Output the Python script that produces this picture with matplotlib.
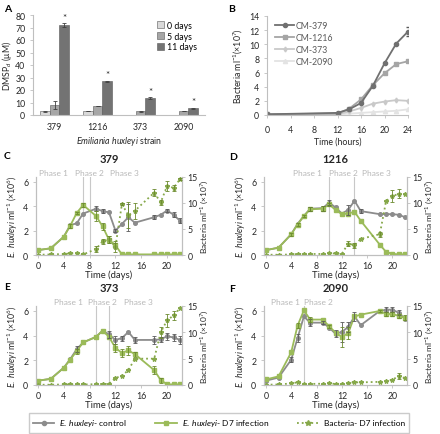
import numpy as np
import matplotlib
matplotlib.use('Agg')
import matplotlib.pyplot as plt
from matplotlib.lines import Line2D
from matplotlib.transforms import blended_transform_factory

plt.rcParams['font.family'] = ['Lato', 'DejaVu Sans']
plt.rcParams['mathtext.fontset'] = 'custom'
plt.rcParams['mathtext.rm'] = 'Lato'
plt.rcParams['mathtext.it'] = 'Lato:italic'
plt.rcParams['mathtext.bf'] = 'Lato:bold'

#------------- A: DMSPd -------------
strains = ['379', '1216', '373', '2090']
dmsp_0 = [3.0, 3.2, 0.2, 0.3]
dmsp_5 = [8.2, 7.3, 3.0, 3.2]
dmsp_11 = [72.0, 27.0, 13.3, 5.5]
err_0 = [0.3, 0.2, 0.1, 0.1]
err_5 = [3.0, 0.3, 0.3, 0.3]
err_11 = [1.5, 0.6, 0.8, 0.4]

#------------- B: bacteria in CM -------------
hours = [0, 12, 14, 16, 18, 20, 22, 24]
cm_379 = [0.1, 0.3, 0.8, 1.7, 4.1, 7.3, 10.1, 11.8]
cm_1216 = [0.1, 0.2, 0.9, 2.2, 4.2, 5.9, 7.2, 7.6]
cm_373 = [0.1, 0.1, 0.5, 1.0, 1.6, 1.9, 2.1, 2.0]
cm_2090 = [0.1, 0.05, 0.2, 0.3, 0.4, 0.5, 0.6, 0.8]
cm_379_err = [0, 0, 0, 0, 0, 0, 0, 0.6]

#------------- C-F: time courses -------------
days = [0, 2, 4, 5, 6, 7, 9, 10, 11, 12, 13, 14, 15, 18, 19, 20, 21, 22]

ctrl_379 = [0.4, 0.55, 1.5, 2.45, 2.6, 3.4, 3.8, 3.6, 3.5, 2.0, 2.55, 3.1, 2.65, 3.1, 3.3, 3.65, 3.3, 2.8]
inf_379 = [0.4, 0.55, 1.5, 2.4, 3.45, 4.1, 3.2, 2.35, 1.25, 0.8, 0.05, 0.05, 0.05, 0.05, 0.05, 0.05, 0.05, 0.05]
bact_379 = [0.05, 0.1, 0.2, 0.3, 0.35, 0.1, 1.15, 2.6, 3.0, 1.6, 9.8, 7.6, 8.5, 12.0, 10.1, 13.3, 12.9, 14.6]
ctrl_379_err = [0, 0, 0, 0, 0, 0, 0.2, 0.15, 0, 0.1, 0, 1.1, 0, 0.15, 0, 0.1, 0.2, 0.2]
inf_379_err = [0, 0, 0, 0.15, 0.1, 0.15, 0.4, 0.3, 0.3, 0.2, 0, 0, 0, 0, 0, 0, 0, 0]
bact_379_err = [0, 0, 0, 0, 0, 0, 0.6, 0.5, 0.6, 1.0, 0.2, 2.5, 1.5, 0.6, 0.4, 1.0, 0.6, 0.2]

ctrl_1216 = [0.4, 0.6, 1.7, 2.55, 3.2, 3.8, 3.85, 4.3, 3.9, 3.4, 3.7, 4.45, 3.6, 3.35, 3.35, 3.35, 3.3, 3.1]
inf_1216 = [0.4, 0.6, 1.7, 2.5, 3.2, 3.75, 3.8, 4.15, 3.7, 3.35, 3.4, 3.55, 2.8, 0.85, 0.25, 0.1, 0.05, 0.05]
bact_1216 = [0.05, 0.05, 0.1, 0.2, 0.15, 0.2, 0.2, 0.3, 0.3, 0.2, 2.2, 1.9, 3.1, 4.0, 10.4, 11.3, 11.8, 11.7]
ctrl_1216_err = [0, 0, 0, 0, 0, 0.15, 0.2, 0.2, 0, 0, 0.4, 0, 0.15, 0, 0, 0, 0, 0]
inf_1216_err = [0, 0, 0.1, 0.1, 0.1, 0.15, 0.2, 0.15, 0, 0, 0, 0, 0, 0, 0, 0, 0, 0]
bact_1216_err = [0, 0, 0, 0, 0, 0, 0, 0, 0, 0, 0.4, 0.5, 0, 0.5, 0, 1.2, 0.8, 0]

ctrl_373 = [0.35, 0.5, 1.4, 2.1, 2.9, 3.45, 3.9, 4.4, 4.1, 3.65, 3.8, 4.3, 3.65, 3.65, 3.7, 3.95, 3.85, 3.65]
inf_373 = [0.35, 0.5, 1.4, 2.05, 2.75, 3.45, 3.9, 4.4, 3.9, 3.0, 2.6, 2.8, 2.5, 1.2, 0.4, 0.05, 0.05, 0.05]
bact_373 = [0.05, 0.05, 0.1, 0.1, 0.1, 0.1, 0.15, 0.2, 0.2, 1.3, 1.8, 2.8, 5.0, 5.0, 10.0, 12.3, 13.2, 14.6]
ctrl_373_err = [0, 0, 0, 0, 0.25, 0, 0, 0, 0.3, 0.3, 0.2, 0, 0.25, 0.3, 0.2, 0.3, 0.25, 0.3]
inf_373_err = [0, 0, 0, 0, 0.2, 0, 0, 0, 0, 0.3, 0.3, 0.35, 0.2, 0.3, 0.2, 0, 0, 0]
bact_373_err = [0, 0, 0, 0, 0, 0, 0, 0, 0, 0, 0, 0, 0, 0, 1.0, 1.2, 0.8, 0]

ctrl_2090 = [0.35, 0.6, 2.05, 3.8, 5.55, 5.05, 5.05, 4.65, 4.15, 4.3, 4.7, 5.55, 4.85, 6.0, 6.1, 6.1, 5.85, 5.35]
inf_2090 = [0.45, 0.7, 2.65, 4.8, 6.05, 5.3, 5.3, 4.75, 4.25, 3.9, 4.2, 5.55, 5.7, 6.0, 5.75, 5.75, 5.6, 5.45]
bact_2090 = [0.05, 0.1, 0.3, 0.5, 0.2, 0.2, 0.25, 0.3, 0.2, 0.25, 0.4, 0.5, 0.5, 0.6, 0.7, 1.0, 1.7, 1.3]
ctrl_2090_err = [0, 0, 0.2, 0.3, 0, 0.3, 0.1, 0, 0.3, 0.8, 0.4, 0.4, 0, 0, 0.2, 0.2, 0.2, 0]
inf_2090_err = [0, 0, 0, 0.2, 0, 0.2, 0, 0.15, 0, 0.8, 0.5, 0, 0, 0.1, 0.2, 0.2, 0.15, 0.2]
bact_2090_err = [0, 0, 0, 0, 0, 0, 0, 0, 0, 0, 0, 0, 0, 0, 0, 0, 0.6, 0]

GRAY = '#8c8c8c'
GREEN = '#9bbb59'
BACT = '#86a84a'
AXC = '#bfbfbf'
TXT = '#262626'
FS = 6.3
LFS = 6.3

fig = plt.figure(figsize=(4.4, 4.35), dpi=100)


def px_rect(l, t, r, b):
    return [l / 440, 1 - b / 435, (r - l) / 440, (b - t) / 435]


def style(ax, sides=('left', 'bottom')):
    for s in ax.spines:
        ax.spines[s].set_visible(s in sides)
        ax.spines[s].set_color(AXC)
        ax.spines[s].set_linewidth(0.8)
    ax.tick_params(labelsize=FS, colors=TXT, length=2, width=0.6)
    ax.tick_params(axis='both', color=AXC)


#------------------ A -------------------
axA = fig.add_axes(px_rect(33, 16, 205, 116))
x = np.arange(len(strains))
w = 0.22
kw = dict(width=w, edgecolor='#595959', linewidth=0.4,
          error_kw=dict(elinewidth=0.6, capsize=1.2, capthick=0.6, ecolor='#404040'))
axA.bar(x - w, dmsp_0, yerr=err_0, color='#d9d9d9', label='0 days', **kw)
axA.bar(x, dmsp_5, yerr=err_5, color='#a6a6a6', label='5 days', **kw)
axA.bar(x + w, dmsp_11, yerr=err_11, color='#737373', label='11 days', **kw)
for i in range(len(strains)):
    axA.text(x[i] + w, dmsp_11[i] + err_11[i] + 1, '*', ha='center', va='bottom',
             fontsize=7, color=TXT)
axA.set_xlim(-0.5, 3.5)
axA.set_ylim(0, 80)
axA.set_yticks(range(0, 81, 10))
axA.set_xticks(x)
axA.set_xticklabels(strains)
style(axA)
axA.tick_params(axis='x', length=0, pad=5)
axA.set_ylabel('DMSP$_d$ (μM)', fontsize=LFS, color=TXT, labelpad=1)
axA.set_xlabel(r'$\it{Emiliania\ huxleyi}$ strain', fontsize=LFS, color=TXT, labelpad=2)
axA.legend(loc='upper right', fontsize=FS, frameon=False, handlelength=0.8,
           handleheight=0.8, handletextpad=0.4, labelspacing=0.2,
           bbox_to_anchor=(1.0, 1.02))
fig.text(4 / 440, 1 - 9 / 435, 'A', fontsize=7.5, fontweight='bold', va='center')

#------------------ B -------------------
axB = fig.add_axes(px_rect(267, 17, 408, 116))
axB.plot(hours, cm_2090, '-^', color='#e3e3e3', ms=3, lw=1.3, label='CM-2090')
axB.plot(hours, cm_373, '-d', color='#c9c9c9', ms=2.5, lw=1.3, label='CM-373')
axB.plot(hours, cm_1216, '-s', color='#a5a5a5', ms=3, lw=1.3, label='CM-1216')
axB.plot(hours, cm_379, '-o', color='#707070', ms=3, lw=1.3, label='CM-379')
m = np.array(cm_379_err) > 0
axB.errorbar(np.array(hours)[m], np.array(cm_379)[m], yerr=np.array(cm_379_err)[m],
             fmt='none', ecolor='#595959', elinewidth=0.6, capsize=1.2)
axB.set_xlim(0, 24)
axB.set_ylim(0, 14)
axB.set_xticks(range(0, 25, 4))
axB.set_yticks(range(0, 15, 2))
style(axB)
axB.tick_params(axis='x', pad=5)
axB.set_xlabel('Time (hours)', fontsize=LFS, color=TXT, labelpad=2)
axB.set_ylabel('Bacteria ml$^{-1}$(×10$^{7}$)', fontsize=LFS, color=TXT, labelpad=3)
h, l = axB.get_legend_handles_labels()
leg = axB.legend(h[::-1], l[::-1], loc='upper left', fontsize=FS, frameon=False,
                 handlelength=2.2, handletextpad=0.2, labelspacing=0.35,
                 bbox_to_anchor=(0.0, 1.03))
for t in leg.get_texts():
    t.set_color('#595959')
fig.text(228 / 440, 1 - 9 / 435, 'B', fontsize=7.5, fontweight='bold', va='center')


#------------------ C-F -------------------
def err_bars(ax, y, e, color):
    e = np.array(e, dtype=float)
    m = e > 0
    ax.errorbar(np.array(days)[m], np.array(y)[m], yerr=e[m], fmt='none',
                ecolor=color, elinewidth=0.6, capsize=1.2, capthick=0.6, zorder=4)


def phase_panel(rect, letter, letter_xy, title, ctrl, inf, bact,
                ctrl_err, inf_err, bact_err, lines, phase_x):
    ax = fig.add_axes(rect)
    ax2 = ax.twinx()
    for d in lines:
        ax.axvline(d, color='#c8c8c8', lw=0.8, zorder=0)
    ax.plot(days, ctrl, '-o', color=GRAY, ms=2.6, lw=1.3, zorder=2)
    ax.plot(days, inf, '-s', color=GREEN, ms=2.8, lw=1.3, zorder=3)
    err_bars(ax, ctrl, ctrl_err, '#595959')
    err_bars(ax, inf, inf_err, '#6b8a2e')
    ax2.plot(days, bact, ':', marker='*', color=BACT, ms=3.2, lw=1.3)
    err_bars(ax2, bact, bact_err, '#6b8a2e')
    ax.set_xlim(-0.3, 22.3)
    ax.set_ylim(0, 6.4)
    ax2.set_ylim(0, 15)
    ax.set_xticks(range(0, 21, 4))
    ax.set_yticks([0, 2, 4, 6])
    ax2.set_yticks([0, 5, 10, 15])
    style(ax, ('left', 'bottom', 'right'))
    style(ax2, ('left', 'bottom', 'right'))
    ax.tick_params(axis='x', pad=2)
    ax2.tick_params(axis='y', pad=2)
    ax.set_xlabel('Time (days)', fontsize=LFS + 0.5, color=TXT, labelpad=0)
    ax.set_ylabel(r'$\it{E.\ huxleyi}$ ml$^{-1}$ (×10$^{6}$)', fontsize=LFS, color=TXT,
                  labelpad=2)
    ax2.set_ylabel('Bacteria ml$^{-1}$ (×10$^{7}$)', fontsize=6, color=TXT, labelpad=1)
    tr = blended_transform_factory(ax.transData, ax.transAxes)
    for i, px in enumerate(phase_x):
        ax.text(px, 1.015, 'Phase %d' % (i + 1), transform=tr, ha='center', va='bottom',
                fontsize=6, color='#b8b8b8')
    ax.set_title(title, fontsize=8, fontweight='bold', color=TXT, pad=11)
    fig.text(letter_xy[0] / 440, 1 - letter_xy[1] / 435, letter, fontsize=7.5,
             fontweight='bold', va='center')


phase_panel(px_rect(36, 178, 182, 256), 'C', (4, 157), '379',
            ctrl_379, inf_379, bact_379, ctrl_379_err, inf_379_err, bact_379_err,
            [7, 8], [2.4, 8.0, 13.4])
phase_panel(px_rect(264, 178, 407, 256), 'D', (229, 158), '1216',
            ctrl_1216, inf_1216, bact_1216, ctrl_1216_err, inf_1216_err, bact_1216_err,
            [10, 14], [6.6, 12.2, 17.5])
phase_panel(px_rect(36, 307, 182, 386), 'E', (4, 288), '373',
            ctrl_373, inf_373, bact_373, ctrl_373_err, inf_373_err, bact_373_err,
            [9, 11], [4.7, 10.0, 15.6])
phase_panel(px_rect(264, 307, 407, 386), 'F', (229, 290), '2090',
            ctrl_2090, inf_2090, bact_2090, ctrl_2090_err, inf_2090_err, bact_2090_err,
            [6], [3.1, 8.3])

#------------------ legend -------------------
handles = [
    Line2D([], [], color=GRAY, marker='o', ms=3, lw=1.3),
    Line2D([], [], color=GREEN, marker='s', ms=3, lw=1.3),
    Line2D([], [], color=BACT, marker='*', ms=4, lw=1.3, ls=':'),
]
labels = [r'$\it{E.\ huxleyi}$- control', r'$\it{E.\ huxleyi}$- D7 infection',
          'Bacteria- D7 infection']
fig.legend(handles, labels, loc='center', ncol=3, fontsize=6,
           bbox_to_anchor=(219 / 440, 1 - 424 / 435), frameon=True, fancybox=False,
           edgecolor='#bfbfbf', handlelength=2.6, columnspacing=3.4, handletextpad=0.6,
           borderpad=0.5)

fig.savefig('out.png', dpi=100)
